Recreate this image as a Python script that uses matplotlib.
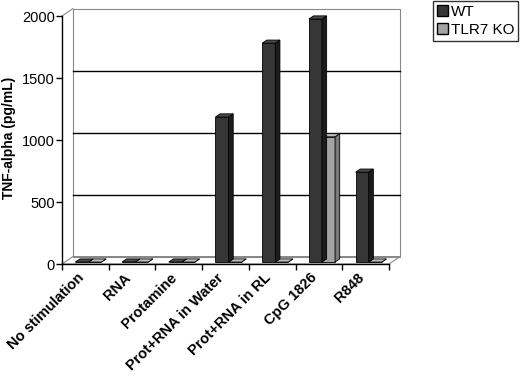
import matplotlib.pyplot as plt
from matplotlib.patches import Polygon, Patch
import numpy as np

plt.rcParams['font.family'] = ['Liberation Sans', 'DejaVu Sans']

categories = ["No stimulation", "RNA", "Protamine", "Prot+RNA in Water",
              "Prot+RNA in RL", "CpG 1826", "R848"]
wt = [0, 0, 0, 1170, 1765, 1960, 725]
ko = [0, 0, 0, 0, 0, 1010, 0]
yticks = [0, 500, 1000, 1500, 2000]

fig = plt.figure(figsize=(5.2, 3.75), dpi=100)
ax = fig.add_axes([62/520, 1 - 264/375, (389 - 62)/520, (264 - 16)/375])
ax.set_xlim(0, 7)
ax.set_ylim(0, 2000)

# depth of the "3d" box (data units)
dx, dy = 0.235, 60
# bar placement inside the depth and bar thickness
bx, by = 0.065, 16
ddx, ddy = 0.1, 25
width = 0.28

# floor, left wall, back wall
wall = dict(facecolor='none', edgecolor='#888888', lw=0.8, clip_on=False, zorder=1)
ax.add_patch(Polygon([(0, 0), (7, 0), (7 + dx, dy), (dx, dy)], closed=True, **wall))
ax.add_patch(Polygon([(dx, dy), (7 + dx, dy), (7 + dx, 2000 + dy), (dx, 2000 + dy)],
                     closed=True, **wall))
ax.plot([0, dx], [2000, 2000 + dy], color='#888888', lw=0.8, clip_on=False, zorder=1)
for v in yticks[1:-1]:
    ax.plot([dx, 7 + dx], [v + dy, v + dy], color='black', lw=1.0, clip_on=False, zorder=1)


def bar3d(x0, h, front, side, top):
    x1 = x0 + width
    y0 = by
    y1 = by + h
    ax.add_patch(Polygon([(x0, y0), (x1, y0), (x1, y1), (x0, y1)], closed=True,
                         facecolor=front, edgecolor='black', lw=0.6, clip_on=False, zorder=3))
    ax.add_patch(Polygon([(x1, y0), (x1 + ddx, y0 + ddy), (x1 + ddx, y1 + ddy), (x1, y1)],
                         closed=True, facecolor=side, edgecolor='black', lw=0.6,
                         clip_on=False, zorder=3))
    ax.add_patch(Polygon([(x0, y1), (x1, y1), (x1 + ddx, y1 + ddy), (x0 + ddx, y1 + ddy)],
                         closed=True, facecolor=top, edgecolor='black', lw=0.6,
                         clip_on=False, zorder=3))


x = np.arange(len(categories))
for i in range(len(categories)):
    left = x[i] + 0.5 - width + bx
    bar3d(left + width, ko[i], '#a3a3a3', '#7a7a7a', '#bdbdbd')
    bar3d(left, wt[i], '#363636', '#1c1c1c', '#4a4a4a')

# axes styling
for s in ['top', 'right']:
    ax.spines[s].set_visible(False)
ax.spines['left'].set_linewidth(1.0)
ax.spines['bottom'].set_linewidth(1.0)
ax.set_yticks(yticks)
ax.set_yticklabels([str(v) for v in yticks], fontsize=10.5)
ax.set_xticks(np.arange(0, 8))
ax.set_xticklabels([])
ax.tick_params(axis='both', direction='out', length=4, width=1.0)
ax.tick_params(axis='y', pad=1)

for i, lab in enumerate(categories):
    ax.text(x[i] + 0.42, -95, lab, rotation=45, rotation_mode='anchor',
            ha='right', va='center', fontsize=10.5, fontweight='bold')

ax.set_ylabel("TNF-alpha (pg/mL)", fontsize=10, fontweight='bold')
ax.yaxis.set_label_coords(-0.14, 0.51)

# legend
handles = [Patch(facecolor='#363636', edgecolor='black', label='WT'),
           Patch(facecolor='#a3a3a3', edgecolor='black', label='TLR7 KO')]
fig.legend(handles=handles, loc='upper right', bbox_to_anchor=(0.996, 0.998),
           fontsize=11, frameon=True, fancybox=False, edgecolor='black',
           handlelength=0.7, handleheight=0.7, handletextpad=0.2,
           borderpad=0.25, labelspacing=0.3, borderaxespad=0.0)

fig.savefig("out.png", dpi=100)
